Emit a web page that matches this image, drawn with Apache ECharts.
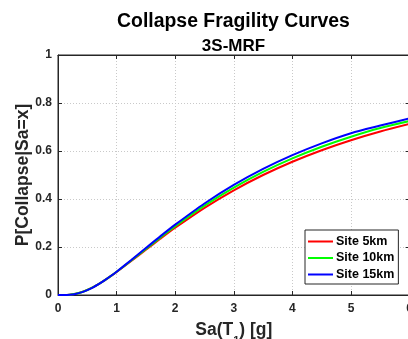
<!DOCTYPE html>
<html>
<head>
<meta charset="utf-8">
<script src="https://cdn.jsdelivr.net/npm/echarts@6/dist/echarts.min.js"></script>
<style>html,body{margin:0;padding:0;background:#fff;overflow:hidden;}#c{width:408px;height:339px;}</style>
</head>
<body>
<div id="c"></div>
<script>
const saValues = [0, 0.1, 0.2, 0.3, 0.4, 0.5, 0.6, 0.7, 0.8, 0.9, 1.0, 1.25, 1.5, 1.75, 2.0, 2.5, 3.0, 3.5, 4.0, 4.5, 5.0, 5.5, 6.0];
const site5km  = [0, 0.0001, 0.0014, 0.0052, 0.0119, 0.0213, 0.0331, 0.0468, 0.0621, 0.0786, 0.0960, 0.1417, 0.1887, 0.2351, 0.2800, 0.3630, 0.4362, 0.5000, 0.5553, 0.6033, 0.6449, 0.6811, 0.7128];
const site10km = [0, 0.0001, 0.0013, 0.0049, 0.0114, 0.0207, 0.0325, 0.0464, 0.0620, 0.0788, 0.0966, 0.1437, 0.1922, 0.2402, 0.2866, 0.3722, 0.4475, 0.5128, 0.5690, 0.6177, 0.6596, 0.6958, 0.7250];
const site15km = [0, 0.0001, 0.0012, 0.0046, 0.0109, 0.0201, 0.0319, 0.0460, 0.0618, 0.0789, 0.0972, 0.1457, 0.1957, 0.2453, 0.2931, 0.3814, 0.4587, 0.5255, 0.5828, 0.6320, 0.6742, 0.7060, 0.7360];
const seriesNames = ['Site 5km', 'Site 10km', 'Site 15km'];
const xTicks = [0, 1, 2, 3, 4, 5, 6];
const yTicks = [0, 0.2, 0.4, 0.6, 0.8, 1];

const axisColor = '#262626';
const font = 'Liberation Sans, Arial, sans-serif';
const pair = (ys) => saValues.map((x, i) => [x, ys[i]]);

const chart = echarts.init(document.getElementById('c'), null, {renderer: 'canvas'});
chart.setOption({
  animation: false,
  backgroundColor: '#ffffff',
  title: [
    {text: 'Collapse Fragility Curves', left: 228.5, top: 7, textAlign: 'center',
     textStyle: {fontFamily: font, fontWeight: 'bold', fontSize: 19.4, color: '#000'}},
    {text: '3S-MRF', left: 228.5, top: 33, textAlign: 'center',
     textStyle: {fontFamily: font, fontWeight: 'bold', fontSize: 17, color: '#000'}}
  ],
  grid: {left: 58, top: 55, width: 351.6, height: 240, containLabel: false, outerBoundsMode: 'none',
         show: true, borderColor: axisColor, borderWidth: 1},
  legend: {
    data: seriesNames, orient: 'vertical', left: 305, top: 230,
    backgroundColor: '#ffffff', borderColor: axisColor, borderWidth: 1,
    padding: [5, 4, 3, 3], itemGap: 3.5, itemWidth: 25, itemHeight: 2, icon: 'rect',
    textStyle: {fontFamily: font, fontWeight: 'bold', fontSize: 12.5, color: '#000', padding: [0, 0, 0, -2]}
  },
  xAxis: [
    {type: 'value', min: 0, max: 6, interval: 1,
     name: 'Sa(T{sub|1}) [g]', nameLocation: 'middle', nameGap: 26, nameMoveOverlap: false,
     nameTextStyle: {fontFamily: font, fontWeight: 'bold', fontSize: 17.5, color: axisColor,
       rich: {sub: {fontFamily: font, fontWeight: 'bold', fontSize: 11, color: axisColor, verticalAlign: 'bottom', padding: [0, 0, -7, 0]}}},
     axisLine: {onZero: false, lineStyle: {color: axisColor, width: 1}},
     axisTick: {inside: true, length: 4, lineStyle: {color: axisColor}},
     axisLabel: {fontFamily: font, fontWeight: 'bold', fontSize: 12, color: axisColor, margin: 8,
       formatter: (v) => xTicks.includes(v) ? String(v) : ''},
     splitLine: {show: true, lineStyle: {color: '#c9c9c9', type: [1, 2], width: 1}}},
    {type: 'value', min: 0, max: 6, interval: 1, position: 'top',
     axisLine: {show: true, onZero: false, lineStyle: {color: axisColor}},
     axisTick: {inside: true, length: 4, lineStyle: {color: axisColor}},
     axisLabel: {show: false}, splitLine: {show: false}}
  ],
  yAxis: [
    {type: 'value', min: 0, max: 1, interval: 0.2,
     name: 'P[Collapse|Sa=x]', nameLocation: 'middle', nameGap: 26, nameMoveOverlap: false,
     nameTextStyle: {fontFamily: font, fontWeight: 'bold', fontSize: 17.5, color: axisColor},
     axisLine: {onZero: false, lineStyle: {color: axisColor, width: 1}},
     axisTick: {inside: true, length: 4, lineStyle: {color: axisColor}},
     axisLabel: {fontFamily: font, fontWeight: 'bold', fontSize: 12, color: axisColor, margin: 6,
       formatter: (v) => { const t = yTicks.find(k => Math.abs(k - v) < 1e-9); return t === undefined ? '' : String(t); }},
     splitLine: {show: true, lineStyle: {color: '#c9c9c9', type: [1, 2], width: 1}}},
    {type: 'value', min: 0, max: 1, interval: 0.2, position: 'right',
     axisLine: {show: true, onZero: false, lineStyle: {color: axisColor}},
     axisTick: {inside: true, length: 4, lineStyle: {color: axisColor}},
     axisLabel: {show: false}, splitLine: {show: false}}
  ],
  series: [
    {name: seriesNames[0], type: 'line', data: pair(site5km), smooth: 0.3, showSymbol: false,
     lineStyle: {color: '#ff0000', width: 2}, itemStyle: {color: '#ff0000'}},
    {name: seriesNames[1], type: 'line', data: pair(site10km), smooth: 0.3, showSymbol: false,
     lineStyle: {color: '#00ff00', width: 2}, itemStyle: {color: '#00ff00'}},
    {name: seriesNames[2], type: 'line', data: pair(site15km), smooth: 0.3, showSymbol: false,
     lineStyle: {color: '#0000ff', width: 2}, itemStyle: {color: '#0000ff'}}
  ]
});
</script>
</body>
</html>
